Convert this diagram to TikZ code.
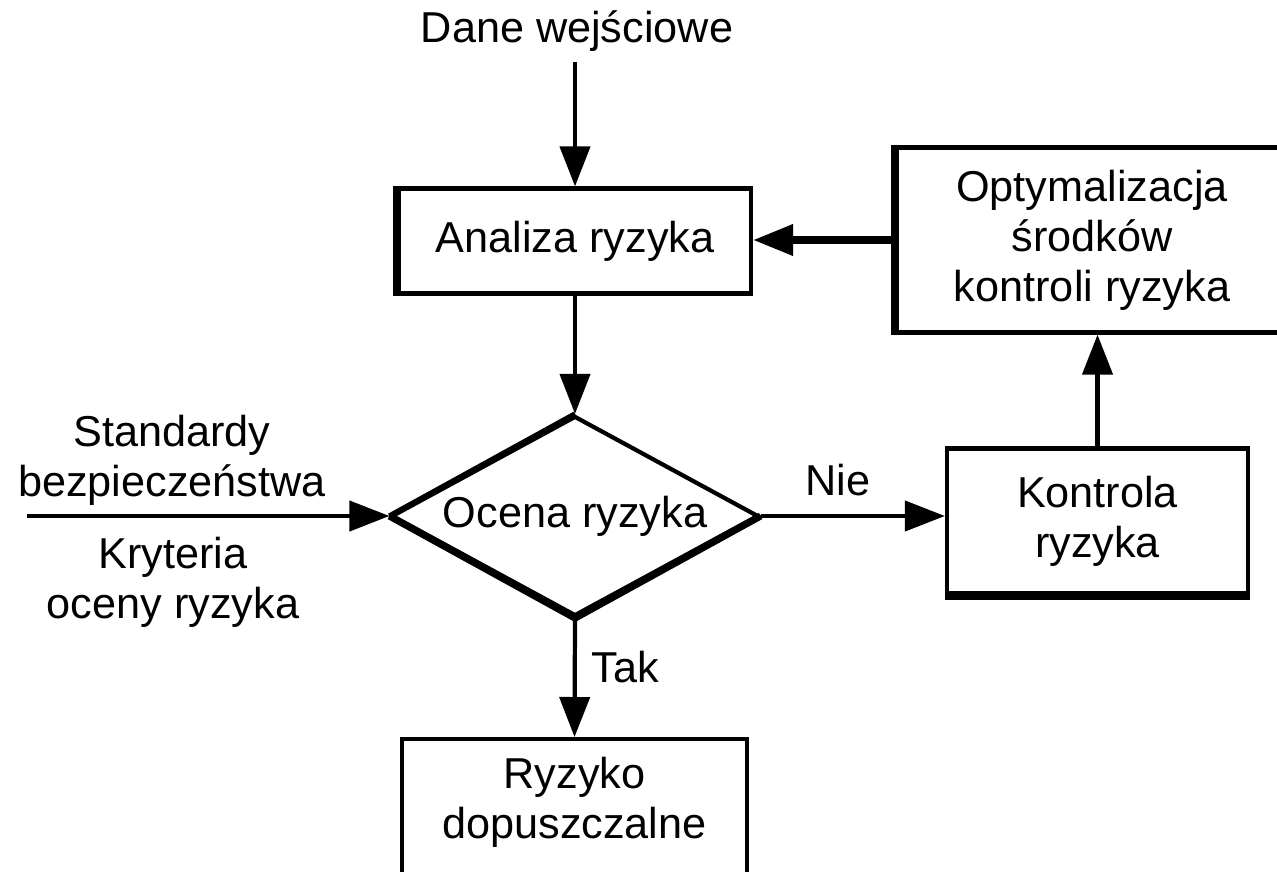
\documentclass[tikz,border=0pt]{standalone}
\usepackage{fontspec}
\setmainfont{Liberation Sans}
\usetikzlibrary{shapes.geometric,arrows.meta}

\begin{document}
\begin{tikzpicture}[
            every node/.style={font=\fontsize{12.3}{14.2}\selectfont, align=center, inner sep=0pt},
            box/.style={draw, line width=1.2pt, rectangle},
            thickside/.style={line width=2.4pt},
            line/.style={line width=1.2pt, -{Triangle[length=4mm,width=3mm]}},
            ]
        \clip (0,0) rectangle (12.77,8.71);

        \node[anchor=base] (dane) at (5.77, 8.28) {Dane wejściowe};
        \coordinate (daneend) at (5.75, 8.09);
        \node[box, minimum width=3.52cm, minimum height=1.05cm] (analiza) at (5.75, 6.30) {Analiza ryzyka};
        \node[box, minimum width=3.90cm, minimum height=1.85cm] (optym) at (10.92, 6.31) {Optymalizacja\\środków\\kontroli ryzyka};
        \node[draw, diamond, line width=1.2pt, aspect=1.835, minimum width=3.67cm, minimum height=2.0cm] (ocena) at (5.75, 3.55) {Ocena ryzyka};
        \node[box, minimum width=3.01cm, minimum height=1.45cm] (kontrola) at (10.975, 3.50) {Kontrola\\ryzyka};
        \node[box, minimum width=3.45cm, minimum height=1.84cm, anchor=north] (ryzyko) at (5.745, 1.34) {};
        \node (ryzykotxt) at (5.745, 0.69) {Ryzyko\\dopuszczalne};

        \node (standardy) at (1.72, 4.11) {Standardy\\bezpieczeństwa};
        \node (kryteria) at (1.73, 2.89) {Kryteria\\oceny ryzyka};
        \coordinate (wejscie) at (0.27, 3.55);

        \draw[thickside] (analiza.north west) -- (analiza.south west);
        \draw[thickside] (optym.north west) -- (optym.south west);
        \draw[thickside] (kontrola.south west) -- (kontrola.south east);
        \draw[line width=2pt, line join=miter] (ocena.west) -- (ocena.south) -- (ocena.east);
        \draw[line width=1.5pt] (ocena.west) -- (ocena.north);

        \draw[line] (daneend) -- (analiza.north);
        \draw[line] (analiza.south) -- (ocena.north);
        \draw[line] (wejscie) -- (ocena.west);
        \draw[line] (ocena.east) -- (ocena.east -| kontrola.west) node[pos=0.42, anchor=base, yshift=0.21cm] (nie) {Nie};
        \draw[line] (kontrola.north) -- (kontrola.north |- optym.south);
        \draw[line, line width=2pt] (optym.west) -- (analiza.east |- optym.west);
        \draw[line] (ocena.south) -- (ryzyko.north) node[pos=0.41, right=0.15cm] (tak) {Tak};
\end{tikzpicture}
\end{document}
